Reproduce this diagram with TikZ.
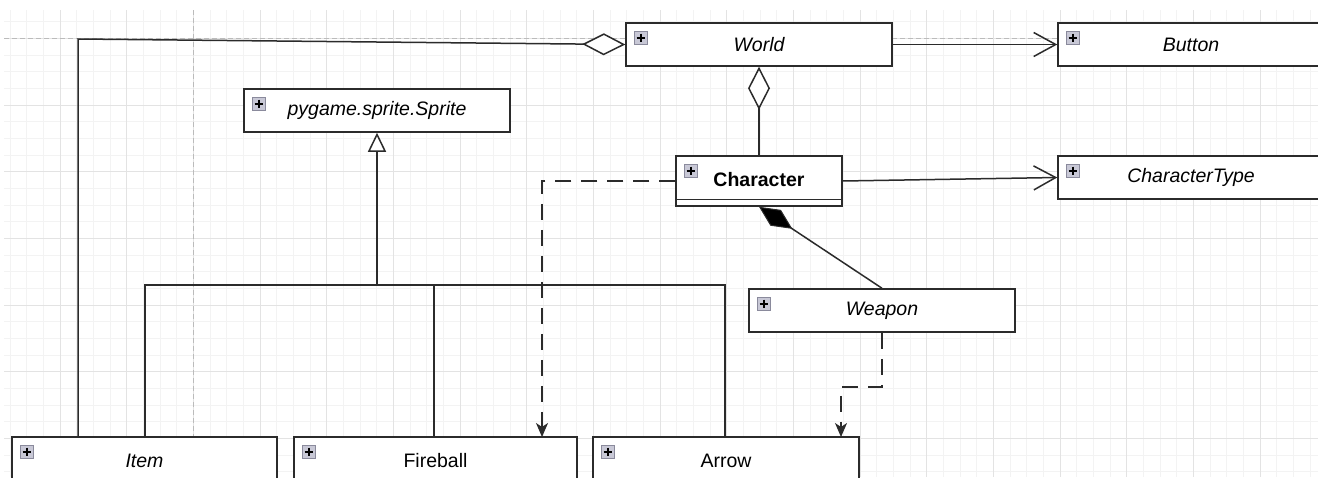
\documentclass[tikz,border=0pt]{standalone}
\usepackage{fontspec}
\setmainfont{Liberation Sans}
\usetikzlibrary{arrows.meta,calc}
\definecolor{minorgrid}{HTML}{F3F3F3}
\definecolor{majorgrid}{HTML}{E3E3E3}
\definecolor{guide}{HTML}{BBBBBB}
\definecolor{edge}{HTML}{2B2B2B}
\definecolor{iconfill}{HTML}{C8C8D6}
\definecolor{iconedge}{HTML}{8A8A9C}
\begin{document}
\begin{tikzpicture}[x=1pt,y=-1pt,
  iconbox/.style={path picture={
    \coordinate (pp) at ($(path picture bounding box.north west)+(8,8)$);
    \draw[draw=iconedge, line width=1pt, fill=iconfill] (pp) rectangle ++(13,13);
    \draw[black, line width=2pt] ($(pp)+(2.5,6.5)$) -- ++(8,0) ($(pp)+(6.5,2.5)$) -- ++(0,8);
  }},
  umlbox/.style={draw=edge, line width=1.5pt, fill=white, minimum height=43pt,
    inner sep=0pt, text=black, font=\fontsize{19.5}{22}\selectfont, iconbox},
  abstract/.style={font=\fontsize{19.5}{22}\selectfont\itshape},
  conn/.style={draw=edge, line width=1.5pt},
  assoc/.style={conn, -{Straight Barb[length=22pt, width=24pt, line width=1.5pt]}},
  aggr/.style={conn, -{Diamond[open, length=43pt, width=22pt, fill=white, line width=1.5pt]}},
  compo/.style={conn, -{Diamond[length=40pt, width=19pt, fill=black, line width=1pt]}},
  inherit/.style={conn, -{Triangle[open, length=19pt, width=18pt, fill=white, line width=1.5pt]}},
  dep/.style={conn, dash pattern=on 16pt off 10pt, -{Stealth[length=14pt, width=12pt, inset=4pt]}},
]
\useasboundingbox (0,0) rectangle (1318,477);
\clip (0,0) rectangle (1318,477);
\fill[white] (0,0) rectangle (1318,477);
% grid
\foreach \i in {0,...,78} \draw[minorgrid, line width=0.8pt] ({10+16.6667*\i},10) -- ({10+16.6667*\i},477);
\foreach \j in {0,...,27} \draw[minorgrid, line width=0.8pt] (4,{21.667+16.6667*\j}) -- (1318,{21.667+16.6667*\j});
\foreach \i in {0,...,18} \draw[majorgrid, line width=1pt] ({60+66.6667*\i},10) -- ({60+66.6667*\i},477);
\foreach \j in {0,...,6} \draw[majorgrid, line width=1pt] (4,{38.333+66.6667*\j}) -- (1318,{38.333+66.6667*\j});
% alignment guides
\draw[guide, line width=1pt, dash pattern=on 5pt off 3pt] (4,38.5) -- (1058,38.5);
\draw[guide, line width=1pt, dash pattern=on 5pt off 3pt] (193.3,10) -- (193.3,477);

% classes
\node[umlbox, abstract, minimum width=266] (world) at (759,44.5) {World};
\node[umlbox, abstract, minimum width=266] (button) at (1191,44.5) {Button};
\node[umlbox, abstract, minimum width=266] (sprite) at (377,110.5) {pygame.sprite.Sprite};
\node[umlbox, minimum width=166, minimum height=50, font=\fontsize{19.5}{22}\selectfont\bfseries] (character) at (759,181) {\raisebox{3pt}{Character}};
\draw[edge, line width=1.2pt] (character.west |- 0,199.5) -- (character.east |- 0,199.5);
\node[umlbox, abstract, minimum width=266] (ctype) at (1191,177.5) {CharacterType};
\node[umlbox, abstract, minimum width=266] (weapon) at (882,310.5) {Weapon};
\node[umlbox, abstract, minimum width=265, minimum height=48] (item) at (144.5,461) {Item};
\node[umlbox, minimum width=283, minimum height=48] (fireball) at (435.5,461) {Fireball};
\node[umlbox, minimum width=266, minimum height=48] (arrow) at (726,461) {Arrow};

% connector points
\coordinate (aggturn) at (78,39);
\coordinate (bus) at (377,285);
\coordinate (itemdrop) at (145,437);
\coordinate (firedrop) at (434,437);
\coordinate (arrowdrop) at (725,437);
\coordinate (dep1end) at (542,437);
\coordinate (dep2end) at (841,437);

% World aggregates items
\draw[aggr] (item.north west -| aggturn) -- (aggturn) -- (world.west);
% World -> Button
\draw[assoc] (world.east) -- (button.west);
% World aggregates Character
\draw[aggr] (character.north) -- (world.south);
% Character -> CharacterType
\draw[assoc] (character.east) -- (ctype.west);
% Character composed of Weapon
\draw[compo] (weapon.north) -- (character.south);
% inheritance from Sprite
\draw[conn] (itemdrop) |- (bus) -| (arrowdrop);
\draw[conn] (firedrop) -- (firedrop |- bus);
\draw[inherit] (bus) -- (sprite.south);
% dependencies
\draw[dep] (character.west) -| (dep1end);
\draw[dep] (weapon.south) -- ++(0,54) -| (dep2end);
\end{tikzpicture}
\end{document}
